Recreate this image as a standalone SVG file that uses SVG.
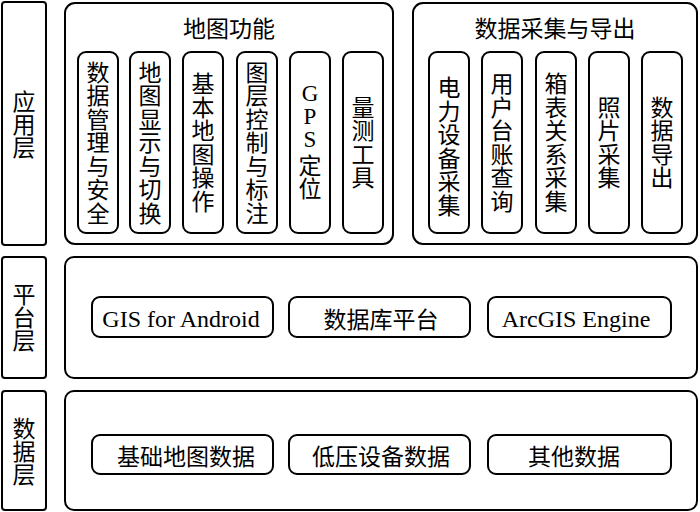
<svg xmlns="http://www.w3.org/2000/svg" width="700" height="512" viewBox="0 0 700 512">
<style>
.b{fill:#fff;stroke:#000;stroke-width:2}
.t{font-family:"Liberation Serif","Noto Sans CJK SC",serif;font-size:23px;fill:#000}
.l{font-size:24px}
.m{text-anchor:middle}
</style>
<rect width="700" height="512" fill="#fff"/>
<g id="layer-app-label"><rect class="b" x="2" y="2" width="44" height="243" rx="3"/>
<text class="t m"><tspan x="24" y="109.5">应</tspan><tspan x="24" y="132.5">用</tspan><tspan x="24" y="155.5">层</tspan></text></g>
<g id="layer-platform-label"><rect class="b" x="2" y="257" width="44" height="121" rx="3"/>
<text class="t m"><tspan x="24" y="303">平</tspan><tspan x="24" y="326">台</tspan><tspan x="24" y="349">层</tspan></text></g>
<g id="layer-data-label"><rect class="b" x="2" y="391" width="44" height="119" rx="3"/>
<text class="t m"><tspan x="24" y="436.5">数</tspan><tspan x="24" y="459.5">据</tspan><tspan x="24" y="482.5">层</tspan></text></g>

<g id="map-functions"><rect class="b" x="65" y="3" width="328" height="241" rx="10"/>
<text class="t m" x="229" y="37">地图功能</text></g>
<g id="data-collect"><rect class="b" x="413" y="3" width="284" height="241" rx="10"/>
<text class="t m" x="555" y="37">数据采集与导出</text></g>

<g id="f1"><rect class="b" x="78" y="52" width="40" height="181" rx="8"/>
<text class="t m"><tspan x="98" y="80.5">数</tspan><tspan x="98" y="104">据</tspan><tspan x="98" y="127.5">管</tspan><tspan x="98" y="151">理</tspan><tspan x="98" y="174.5">与</tspan><tspan x="98" y="198">安</tspan><tspan x="98" y="221.5">全</tspan></text></g>
<g id="f2"><rect class="b" x="130" y="52" width="40" height="181" rx="8"/>
<text class="t m"><tspan x="150" y="80.5">地</tspan><tspan x="150" y="104">图</tspan><tspan x="150" y="127.5">显</tspan><tspan x="150" y="151">示</tspan><tspan x="150" y="174.5">与</tspan><tspan x="150" y="198">切</tspan><tspan x="150" y="221.5">换</tspan></text></g>
<g id="f3"><rect class="b" x="183" y="52" width="40" height="181" rx="8"/>
<text class="t m"><tspan x="203" y="92.25">基</tspan><tspan x="203" y="115.75">本</tspan><tspan x="203" y="139.25">地</tspan><tspan x="203" y="162.75">图</tspan><tspan x="203" y="186.25">操</tspan><tspan x="203" y="209.75">作</tspan></text></g>
<g id="f4"><rect class="b" x="237" y="52" width="40" height="181" rx="8"/>
<text class="t m"><tspan x="257" y="80.5">图</tspan><tspan x="257" y="104">层</tspan><tspan x="257" y="127.5">控</tspan><tspan x="257" y="151">制</tspan><tspan x="257" y="174.5">与</tspan><tspan x="257" y="198">标</tspan><tspan x="257" y="221.5">注</tspan></text></g>
<g id="f5"><rect class="b" x="290" y="52" width="40" height="181" rx="8"/>
<text class="t m"><tspan x="310" y="101">G</tspan><tspan x="310" y="124">P</tspan><tspan x="310" y="147">S</tspan><tspan x="310" y="173.5">定</tspan><tspan x="310" y="196.5">位</tspan></text></g>
<g id="f6"><rect class="b" x="343" y="52" width="40" height="181" rx="8"/>
<text class="t m"><tspan x="363" y="115.75">量</tspan><tspan x="363" y="139.25">测</tspan><tspan x="363" y="162.75">工</tspan><tspan x="363" y="186.25">具</tspan></text></g>

<g id="c1"><rect class="b" x="429" y="52" width="40" height="181" rx="8"/>
<text class="t m"><tspan x="449" y="96">电</tspan><tspan x="449" y="119.5">力</tspan><tspan x="449" y="143">设</tspan><tspan x="449" y="166.5">备</tspan><tspan x="449" y="190">采</tspan><tspan x="449" y="213.5">集</tspan></text></g>
<g id="c2"><rect class="b" x="482" y="52" width="40" height="181" rx="8"/>
<text class="t m"><tspan x="502" y="92.25">用</tspan><tspan x="502" y="115.75">户</tspan><tspan x="502" y="139.25">台</tspan><tspan x="502" y="162.75">账</tspan><tspan x="502" y="186.25">查</tspan><tspan x="502" y="209.75">询</tspan></text></g>
<g id="c3"><rect class="b" x="536" y="52" width="40" height="181" rx="8"/>
<text class="t m"><tspan x="556" y="92.25">箱</tspan><tspan x="556" y="115.75">表</tspan><tspan x="556" y="139.25">关</tspan><tspan x="556" y="162.75">系</tspan><tspan x="556" y="186.25">采</tspan><tspan x="556" y="209.75">集</tspan></text></g>
<g id="c4"><rect class="b" x="589" y="52" width="40" height="181" rx="8"/>
<text class="t m"><tspan x="609" y="115.75">照</tspan><tspan x="609" y="139.25">片</tspan><tspan x="609" y="162.75">采</tspan><tspan x="609" y="186.25">集</tspan></text></g>
<g id="c5"><rect class="b" x="642" y="52" width="40" height="181" rx="8"/>
<text class="t m"><tspan x="662" y="115.75">数</tspan><tspan x="662" y="139.25">据</tspan><tspan x="662" y="162.75">导</tspan><tspan x="662" y="186.25">出</tspan></text></g>

<g id="platform"><rect class="b" x="65" y="257" width="632" height="121" rx="9"/></g>
<g id="p1"><rect class="b" x="92" y="297" width="181" height="40" rx="8"/><text class="t l m" x="181" y="327">GIS for Android</text></g>
<g id="p2"><rect class="b" x="289" y="297" width="181" height="40" rx="8"/><text class="t m" x="381" y="327.5">数据库平台</text></g>
<g id="p3"><rect class="b" x="488" y="297" width="183" height="40" rx="8"/><text class="t l m" x="576" y="327">ArcGIS Engine</text></g>

<g id="data"><rect class="b" x="65" y="391" width="632" height="119" rx="9"/></g>
<g id="d1"><rect class="b" x="92" y="435" width="181" height="39" rx="8"/><text class="t m" x="186" y="464.5">基础地图数据</text></g>
<g id="d2"><rect class="b" x="289" y="435" width="181" height="39" rx="8"/><text class="t m" x="381" y="464.5">低压设备数据</text></g>
<g id="d3"><rect class="b" x="488" y="435" width="183" height="39" rx="8"/><text class="t m" x="574" y="464.5">其他数据</text></g>
<g id="connectors"></g>
</svg>
